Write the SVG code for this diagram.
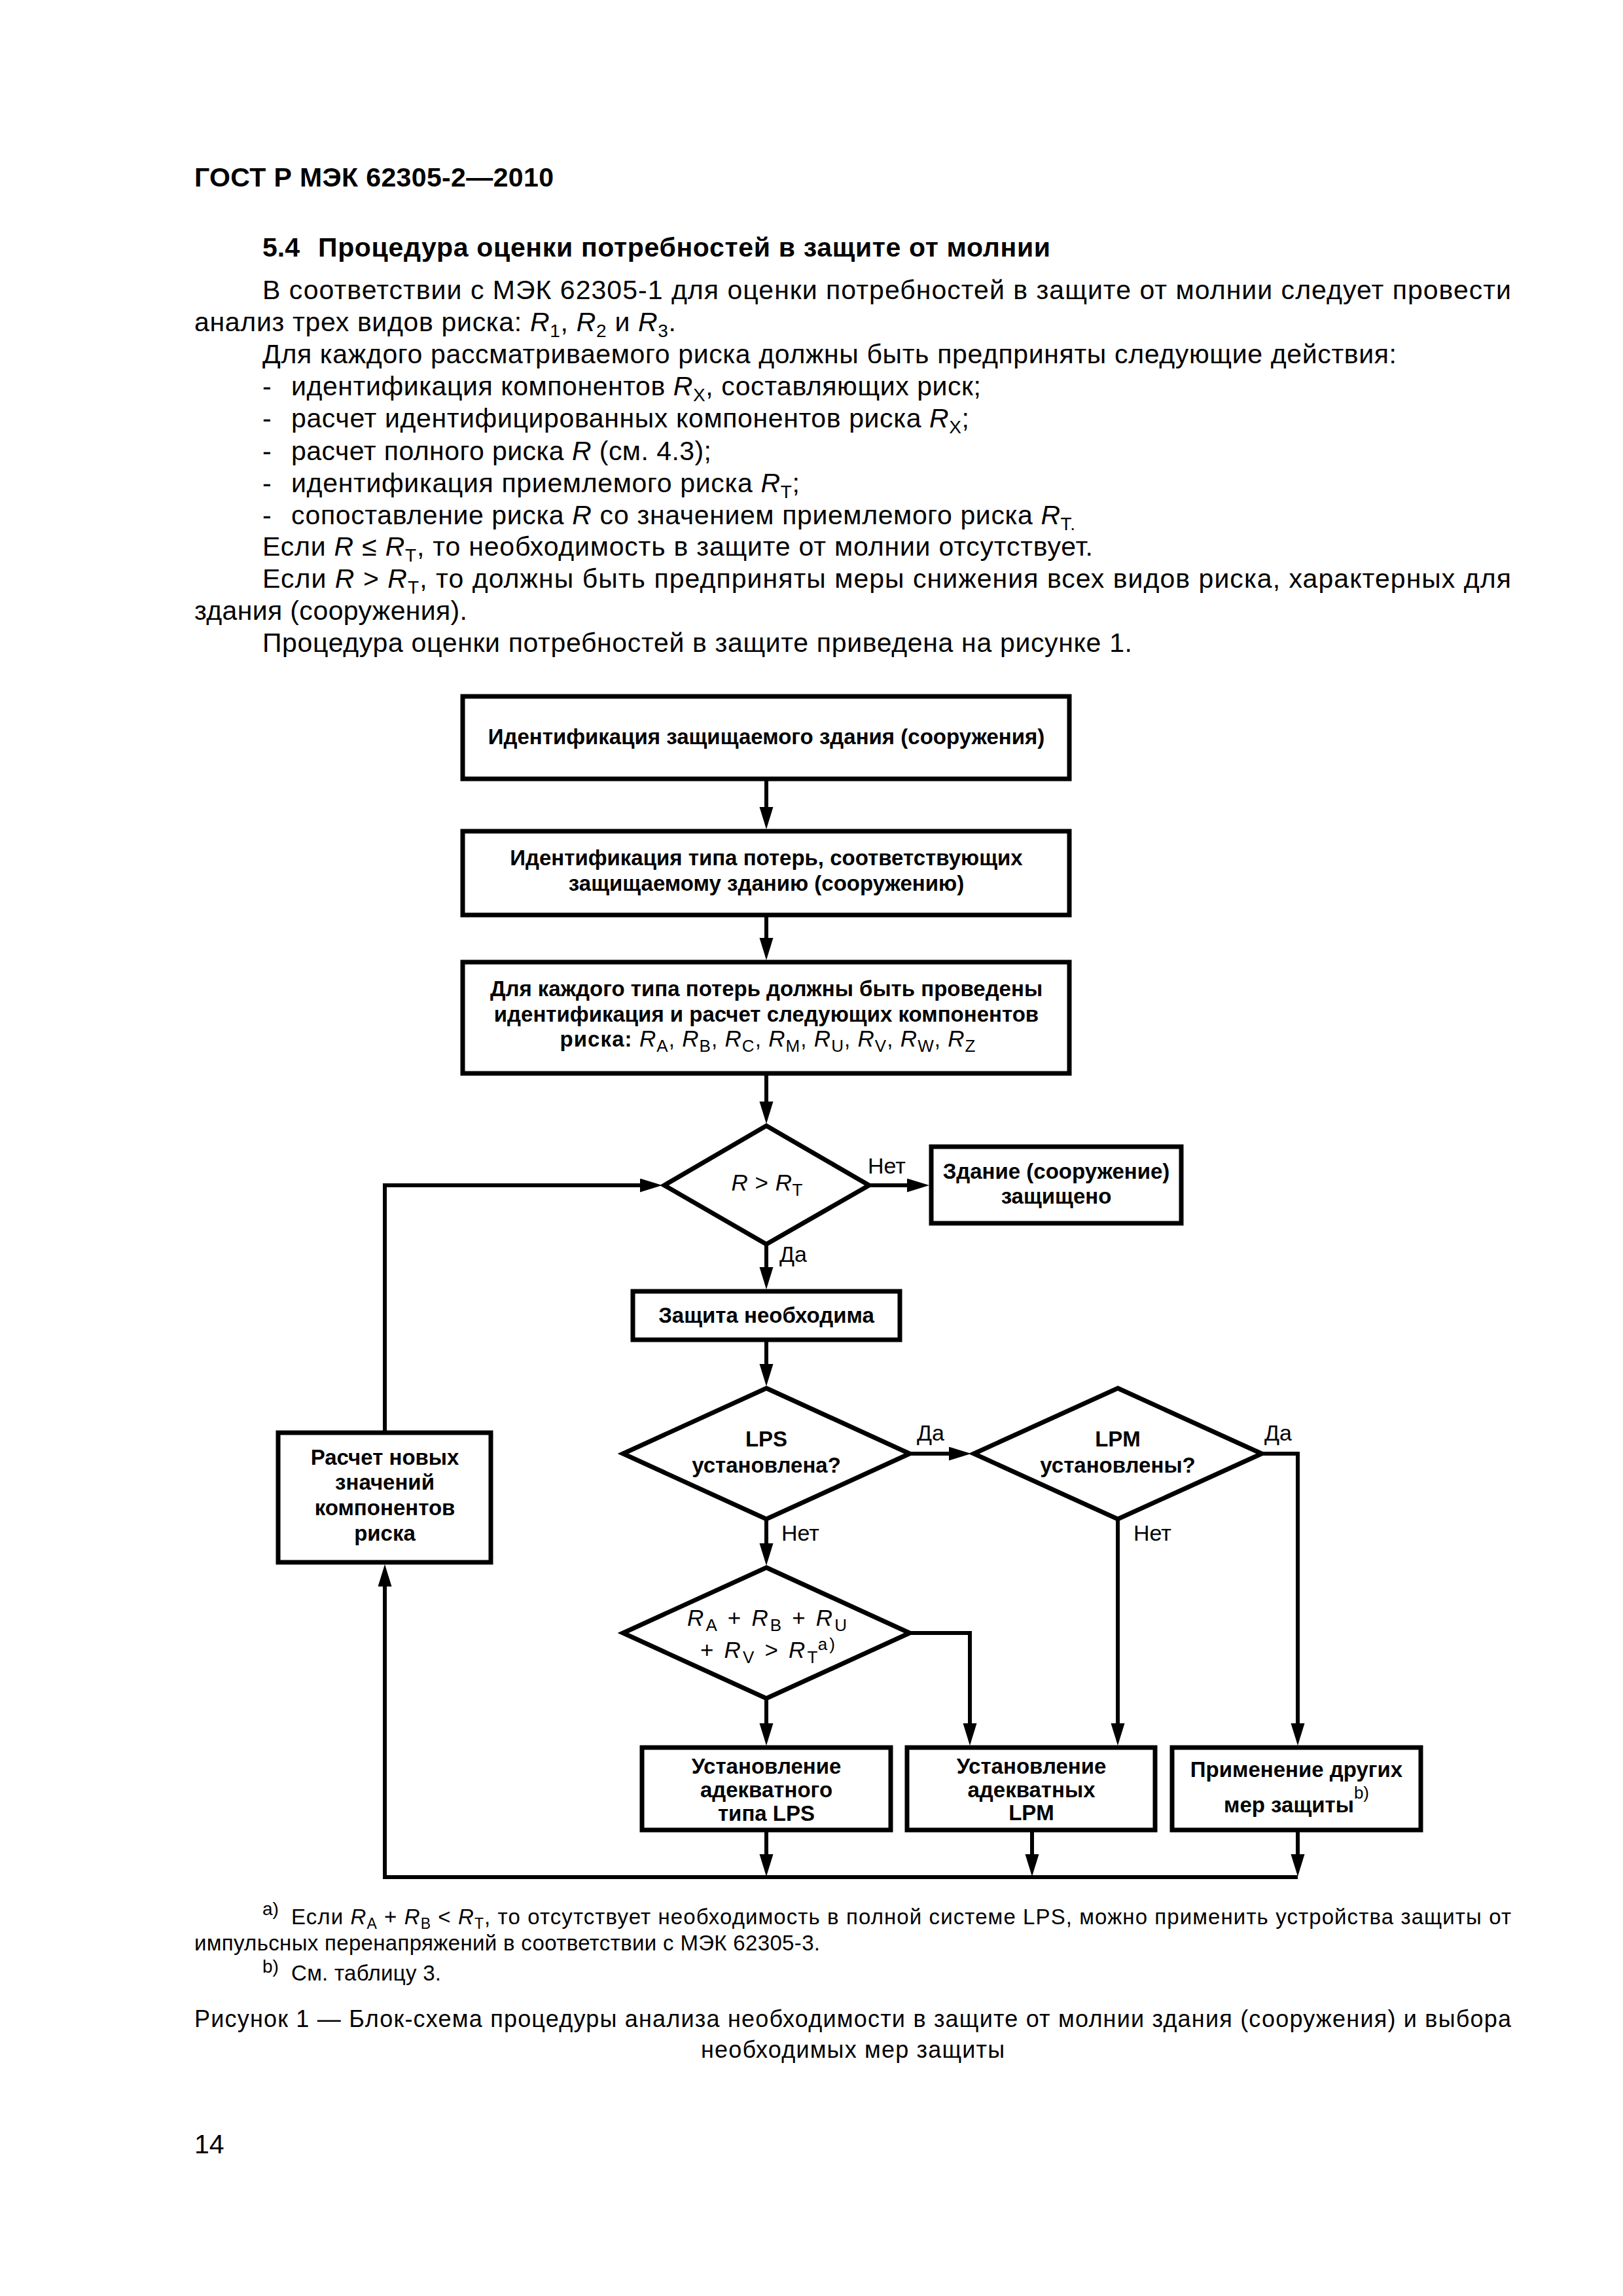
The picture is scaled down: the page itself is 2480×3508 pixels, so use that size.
<svg xmlns="http://www.w3.org/2000/svg" width="2480" height="3508" viewBox="0 0 2480 3508">
<defs>
<style>
.t{font-family:"Liberation Sans",Arial,"DejaVu Sans",sans-serif;fill:#000}
.body{font-size:41px}
.cap{font-size:36px}
.fn{font-size:33px}
.sup{font-size:28px}
.b{font-weight:bold}
.box{fill:#fff;stroke:#000;stroke-width:7}
.dia{fill:#fff;stroke:#000;stroke-width:7;stroke-linejoin:miter}
.lbl{font-size:33px;font-weight:bold;text-anchor:middle}
.f{font-size:35px;font-weight:normal;text-anchor:middle}
.yn{font-size:34px}
.conn{stroke:#000;stroke-width:6;fill:none}
.i{font-style:italic;font-weight:normal}
.n{font-weight:normal}
</style>
<marker id="ah" markerUnits="userSpaceOnUse" markerWidth="36" markerHeight="22" refX="9" refY="10.5" orient="auto">
<path d="M0,0 L34,10.5 L0,21 Z" fill="#000"/>
</marker>
</defs>
<rect x="0" y="0" width="2480" height="3508" fill="#fff"/>

<!-- Page text -->
<g id="page-text" class="t">
<text class="body b" x="297" y="285" textLength="549" lengthAdjust="spacing">ГОСТ Р МЭК 62305-2—2010</text>
<text class="body b" x="401" y="392">5.4</text>
<text class="body b" x="486" y="392" textLength="1119" lengthAdjust="spacing">Процедура оценки потребностей в защите от молнии</text>
<text class="body" x="401" y="457" textLength="1908" lengthAdjust="spacing">В соответствии с МЭК 62305-1 для оценки потребностей в защите от молнии следует провести</text>
<text class="body" x="297" y="506" textLength="736" lengthAdjust="spacing">анализ трех видов риска: <tspan class="i">R</tspan><tspan font-size="28" dy="9">1</tspan><tspan dy="-9">, </tspan><tspan class="i">R</tspan><tspan font-size="28" dy="9">2</tspan><tspan dy="-9"> и </tspan><tspan class="i">R</tspan><tspan font-size="28" dy="9">3</tspan><tspan dy="-9">.</tspan></text>
<text class="body" x="401" y="555" textLength="1733" lengthAdjust="spacing">Для каждого рассматриваемого риска должны быть предприняты следующие действия:</text>
<text class="body" x="401" y="604">-</text>
<text class="body" x="445" y="604" textLength="1054" lengthAdjust="spacing">идентификация компонентов <tspan class="i">R</tspan><tspan font-size="28" dy="9">X</tspan><tspan dy="-9">, составляющих риск;</tspan></text>
<text class="body" x="401" y="653">-</text>
<text class="body" x="445" y="653" textLength="1036" lengthAdjust="spacing">расчет идентифицированных компонентов риска <tspan class="i">R</tspan><tspan font-size="28" dy="9">X</tspan><tspan dy="-9">;</tspan></text>
<text class="body" x="401" y="703">-</text>
<text class="body" x="445" y="703" textLength="642" lengthAdjust="spacing">расчет полного риска <tspan class="i">R</tspan> (см. 4.3);</text>
<text class="body" x="401" y="752">-</text>
<text class="body" x="445" y="752" textLength="777" lengthAdjust="spacing">идентификация приемлемого риска <tspan class="i">R</tspan><tspan font-size="28" dy="9">T</tspan><tspan dy="-9">;</tspan></text>
<text class="body" x="401" y="801">-</text>
<text class="body" x="445" y="801" textLength="1198" lengthAdjust="spacing">сопоставление риска <tspan class="i">R</tspan> со значением приемлемого риска <tspan class="i">R</tspan><tspan font-size="28" dy="9">T.</tspan></text>
<text class="body" x="401" y="849" textLength="1269" lengthAdjust="spacing">Если <tspan class="i">R</tspan> ≤ <tspan class="i">R</tspan><tspan font-size="28" dy="9">T</tspan><tspan dy="-9">, то необходимость в защите от молнии отсутствует.</tspan></text>
<text class="body" x="401" y="898" textLength="1908" lengthAdjust="spacing">Если <tspan class="i">R</tspan> &gt; <tspan class="i">R</tspan><tspan font-size="28" dy="9">T</tspan><tspan dy="-9">, то должны быть предприняты меры снижения всех видов риска, характерных для</tspan></text>
<text class="body" x="297" y="947" textLength="417" lengthAdjust="spacing">здания (сооружения).</text>
<text class="body" x="401" y="996" textLength="1329" lengthAdjust="spacing">Процедура оценки потребностей в защите приведена на рисунке 1.</text>

<text class="sup" x="401" y="2926">a)</text>
<text class="fn" x="445" y="2940" textLength="1864" lengthAdjust="spacing">Если <tspan class="i">R</tspan><tspan font-size="23" dy="7">A</tspan><tspan dy="-7"> + </tspan><tspan class="i">R</tspan><tspan font-size="23" dy="7">B</tspan><tspan dy="-7"> &lt; </tspan><tspan class="i">R</tspan><tspan font-size="23" dy="7">T</tspan><tspan dy="-7">, то отсутствует необходимость в полной системе LPS, можно применить устройства защиты от</tspan></text>
<text class="fn" x="297" y="2980" textLength="956" lengthAdjust="spacing">импульсных перенапряжений в соответствии с МЭК 62305-3.</text>
<text class="sup" x="401" y="3014">b)</text>
<text class="fn" x="445" y="3026" textLength="229" lengthAdjust="spacing">См. таблицу 3.</text>

<text class="cap" x="297" y="3097" textLength="2012" lengthAdjust="spacing">Рисунок 1 — Блок-схема процедуры анализа необходимости в защите от молнии здания (сооружения) и выбора</text>
<text class="cap" x="1303" y="3144" text-anchor="middle" textLength="464" lengthAdjust="spacing">необходимых мер защиты</text>
<text class="body" x="297" y="3290">14</text>
</g>

<!-- Connectors -->
<g id="connectors" class="conn" marker-end="url(#ah)">
<path d="M1171,1190 V1242"/>
<path d="M1171,1398 V1442"/>
<path d="M1171,1640 V1692"/>
<path d="M1329,1811 H1395"/>
<path d="M1171,1901 V1945"/>
<path d="M1171,2047 V2093"/>
<path d="M1390,2221 H1459"/>
<path d="M1171,2321 V2367"/>
<path d="M1171,2595 V2642"/>
<path d="M1390,2495 H1482 V2642"/>
<path d="M1708,2321 V2642"/>
<path d="M1928,2221 H1983 V2642"/>
<path d="M1171,2796 V2842"/>
<path d="M1577,2796 V2842"/>
<path d="M1983,2796 V2842"/>
<path d="M1983,2868 H588 V2415"/>
<path d="M588,2189 V1811 H987"/>
</g>

<!-- Nodes -->
<g id="n-ident" class="t">
<rect class="box" x="707" y="1064" width="927" height="126"/>
<text class="lbl" x="1171" y="1137">Идентификация защищаемого здания (сооружения)</text>
</g>

<g id="n-loss" class="t">
<rect class="box" x="707" y="1270" width="927" height="128"/>
<text class="lbl" x="1171" y="1322">Идентификация типа потерь, соответствующих</text>
<text class="lbl" x="1171" y="1361">защищаемому зданию (сооружению)</text>
</g>

<g id="n-components" class="t">
<rect class="box" x="707" y="1470" width="927" height="170"/>
<text class="lbl" x="1171" y="1522">Для каждого типа потерь должны быть проведены</text>
<text class="lbl" x="1171" y="1561">идентификация и расчет следующих компонентов</text>
<text class="lbl" x="1173" y="1599" textLength="635" lengthAdjust="spacing">риска: <tspan class="i" font-size="35">R</tspan><tspan class="n" font-size="26" dy="8">A</tspan><tspan class="n" dy="-8">, </tspan><tspan class="i" font-size="35">R</tspan><tspan class="n" font-size="26" dy="8">B</tspan><tspan class="n" dy="-8">, </tspan><tspan class="i" font-size="35">R</tspan><tspan class="n" font-size="26" dy="8">C</tspan><tspan class="n" dy="-8">, </tspan><tspan class="i" font-size="35">R</tspan><tspan class="n" font-size="26" dy="8">M</tspan><tspan class="n" dy="-8">, </tspan><tspan class="i" font-size="35">R</tspan><tspan class="n" font-size="26" dy="8">U</tspan><tspan class="n" dy="-8">, </tspan><tspan class="i" font-size="35">R</tspan><tspan class="n" font-size="26" dy="8">V</tspan><tspan class="n" dy="-8">, </tspan><tspan class="i" font-size="35">R</tspan><tspan class="n" font-size="26" dy="8">W</tspan><tspan class="n" dy="-8">, </tspan><tspan class="i" font-size="35">R</tspan><tspan class="n" font-size="26" dy="8">Z</tspan></text>
</g>

<g id="d-risk" class="t">
<polygon class="dia" points="1171,1720 1328,1811 1171,1901 1015,1811"/>
<text class="f" x="1172" y="1819" textLength="109" lengthAdjust="spacing"><tspan class="i">R</tspan> &gt; <tspan class="i">R</tspan><tspan font-size="26" dy="8">T</tspan></text>
<text class="yn" x="1326" y="1793">Нет</text>
<text class="yn" x="1191" y="1928">Да</text>
</g>

<g id="n-protected" class="t">
<rect class="box" x="1423" y="1752" width="382" height="117"/>
<text class="lbl" x="1614" y="1801">Здание (сооружение)</text>
<text class="lbl" x="1614" y="1839">защищено</text>
</g>

<g id="n-needed" class="t">
<rect class="box" x="967" y="1973" width="408" height="74"/>
<text class="lbl" x="1171" y="2021">Защита необходима</text>
</g>

<g id="d-lps" class="t">
<polygon class="dia" points="1171,2121 1390,2221 1171,2321 952,2221"/>
<text class="lbl" x="1171" y="2210">LPS</text>
<text class="lbl" x="1171" y="2250">установлена?</text>
<text class="yn" x="1401" y="2201">Да</text>
<text class="yn" x="1194" y="2354">Нет</text>
</g>

<g id="d-lpm" class="t">
<polygon class="dia" points="1708,2121 1928,2221 1708,2321 1488,2221"/>
<text class="lbl" x="1708" y="2210">LPM</text>
<text class="lbl" x="1708" y="2250">установлены?</text>
<text class="yn" x="1932" y="2201">Да</text>
<text class="yn" x="1732" y="2354">Нет</text>
</g>

<g id="d-sum" class="t">
<polygon class="dia" points="1171,2395 1390,2495 1171,2595 952,2495"/>
<text class="f" x="1172" y="2484" textLength="244" lengthAdjust="spacing"><tspan class="i">R</tspan><tspan font-size="26" dy="8">A</tspan><tspan dy="-8"> + </tspan><tspan class="i">R</tspan><tspan font-size="26" dy="8">B</tspan><tspan dy="-8"> + </tspan><tspan class="i">R</tspan><tspan font-size="26" dy="8">U</tspan></text>
<text class="f" x="1173" y="2533" textLength="206" lengthAdjust="spacing">+ <tspan class="i">R</tspan><tspan font-size="26" dy="8">V</tspan><tspan dy="-8"> &gt; </tspan><tspan class="i">R</tspan><tspan font-size="26" dy="8">T</tspan><tspan font-size="26" dy="-20">a)</tspan></text>
</g>

<g id="n-recalc" class="t">
<rect class="box" x="425" y="2189" width="325" height="198"/>
<text class="lbl" x="588" y="2238">Расчет новых</text>
<text class="lbl" x="588" y="2276">значений</text>
<text class="lbl" x="588" y="2315">компонентов</text>
<text class="lbl" x="588" y="2354">риска</text>
</g>

<g id="n-set-lps" class="t">
<rect class="box" x="981" y="2670" width="380" height="126"/>
<text class="lbl" x="1171" y="2710">Установление</text>
<text class="lbl" x="1171" y="2746">адекватного</text>
<text class="lbl" x="1171" y="2782">типа LPS</text>
</g>

<g id="n-set-lpm" class="t">
<rect class="box" x="1386" y="2670" width="379" height="126"/>
<text class="lbl" x="1576" y="2710">Установление</text>
<text class="lbl" x="1576" y="2746">адекватных</text>
<text class="lbl" x="1576" y="2781">LPM</text>
</g>

<g id="n-other" class="t">
<rect class="box" x="1791" y="2670" width="380" height="126"/>
<text class="lbl" x="1981" y="2715">Применение других</text>
<text class="lbl" x="1981" y="2769">мер защиты<tspan class="n" font-size="26" dy="-21">b)</tspan></text>
</g>
</svg>
